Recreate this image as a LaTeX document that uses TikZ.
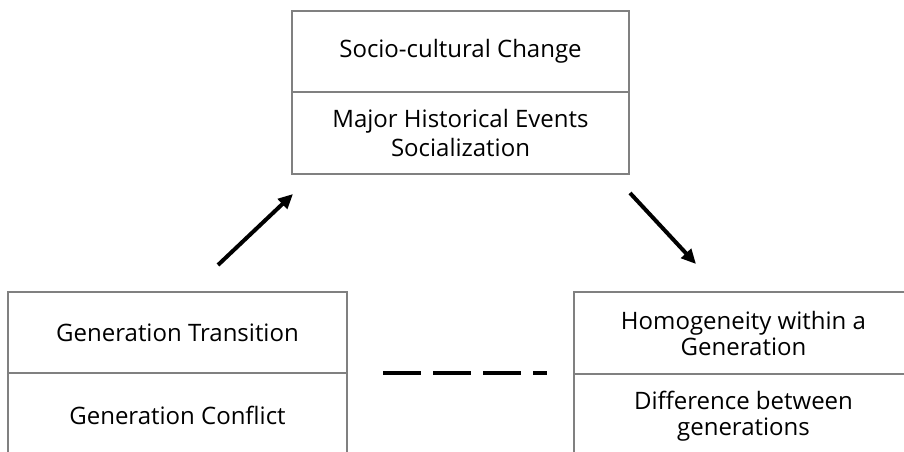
\documentclass[tikz,border=0pt]{standalone}
\usepackage{fontspec}
\setmainfont{Open Sans}
\usetikzlibrary{arrows.meta}
\definecolor{boxgray}{HTML}{808080}
\begin{document}
\begin{tikzpicture}[x=0.75pt,y=-0.75pt,
  half/.style={draw=boxgray, line width=0.8pt, inner sep=0pt, align=center,
    font=\fontsize{18}{21.5}\selectfont, text=black},
  tight/.style={font=\fontsize{18}{19.5}\selectfont},
  arr/.style={line width=3pt, -{Triangle[length=11pt,width=10pt]}},
  dashline/.style={line width=3.2pt, dash pattern=on 28.5pt off 9pt}]
\useasboundingbox (0,0) rectangle (904,451);
\clip (0,0) rectangle (904,451);
% top box
\node[half, minimum width=252.75pt, minimum height=60.75pt] (t1) at (460.5,51.5) {Socio-cultural Change};
\node[half, minimum width=252.75pt, minimum height=61.5pt] (t2) at (460.5,133) {Major Historical Events\\Socialization};
% left box
\node[half, minimum width=254.25pt, minimum height=60.75pt] (l1) at (177.5,332.5) {Generation Transition};
\node[half, minimum width=254.25pt, minimum height=63.75pt] (l2) at (177.5,415.5) {Generation Conflict};
% right box
\node[half, tight, minimum width=254.25pt, minimum height=61.5pt] (r1) at (743.5,333) {Homogeneity within a\\Generation};
\node[half, tight, minimum width=254.25pt, minimum height=63pt] (r2) at (743.5,416) {Difference between\\generations};
% arrows
\coordinate (a1s) at (218,265);
\coordinate (a1e) at (293,194);
\coordinate (a2s) at (630,193);
\coordinate (a2e) at (696,264);
\draw[arr] (a1s) -- (a1e);
\draw[arr] (a2s) -- (a2e);
% dashed link
\coordinate (d1) at (383,373);
\coordinate (d2) at (547,373);
\draw[dashline] (d1) -- (d2);
\end{tikzpicture}
\end{document}
